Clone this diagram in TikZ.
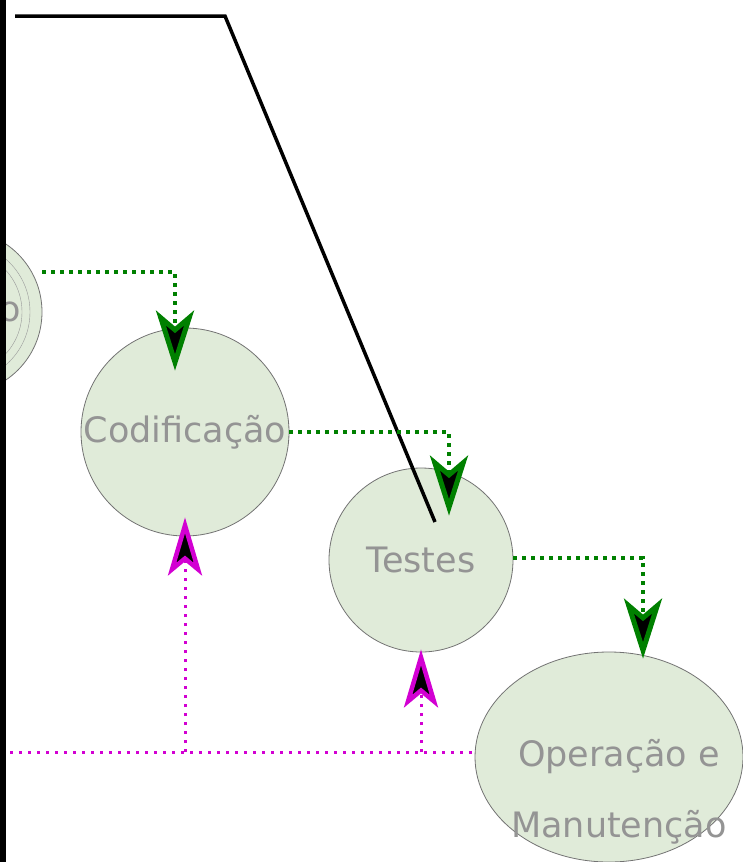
\documentclass[tikz,border=0pt]{standalone}
\usepackage{fontspec}
\setmainfont{DejaVu Sans}
\usetikzlibrary{arrows.meta,shapes.geometric}

\definecolor{phasefill}{RGB}{224,235,217}
\definecolor{phasetext}{RGB}{148,148,148}
\definecolor{flowgreen}{RGB}{0,128,0}
\definecolor{backmag}{RGB}{210,0,210}

\begin{document}
\begin{tikzpicture}[x=1pt,y=-1pt]
\tikzset{
  phase/.style={circle,draw=black!55,line width=0.8pt,fill=phasefill,text=phasetext,inner sep=0pt,font=\fontsize{35}{40}\selectfont},
  flow/.style={flowgreen,line width=3.5pt,dash pattern=on 4pt off 5pt,
    -{Stealth[length=60pt,width=38pt,inset=16pt,line width=5pt,fill=black]}},
  back/.style={backmag,line width=3pt,dash pattern=on 3pt off 6pt},
  backtip/.style={back,-{Stealth[length=58pt,width=34pt,inset=14pt,line width=4.5pt,fill=black]}}
}
\clip (0,0) rectangle (743,862);

% phases
\node (proj) at (-40,312) [phase,minimum size=164pt] {Projeto};
\draw [black!40,thin] (proj) circle (70) (proj) circle (62);
\node (cod) at (185,432) [phase,minimum size=208pt] {Codificação};
\node (tes) at (421,560) [phase,minimum size=184pt] {Testes};
\node (ope) at (609,757) [phase,ellipse,minimum width=268pt,minimum height=210pt] {};
\node (opelbl) at (619,792) [text=phasetext,align=center,font=\fontsize{35}{71}\selectfont] {Operação e\\Manutenção};

% black frame line
\fill (0,0) rectangle (6,862);
\coordinate (topL) at (15,16);
\coordinate (topR) at (225,16);
\coordinate (lineEnd) at (435,522);
\draw [line width=3.5pt] (topL) -- (topR) -- (lineEnd);

% forward flow
\draw [flow] ([yshift=40]proj.east) -| ([shift={(-10,43)}]cod.north);
\draw [flow] (cod.east) -| ([shift={(28,48)}]tes.north);
\draw [flow] ([yshift=2]tes.east) -| ([shift={(34,7)}]ope.north);

% feedback
\coordinate (fbL) at (10,752);
\draw [back] (fbL) -- (fbL -| ope.west);
\draw [backtip] (fbL -| cod.south) -- ([yshift=19]cod.south);
\draw [backtip] (fbL -| tes.south) -- ([yshift=3]tes.south);
\end{tikzpicture}
\end{document}
